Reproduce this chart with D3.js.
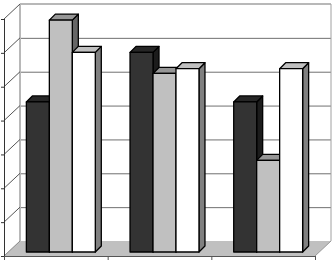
<!DOCTYPE html>
<html><head><meta charset="utf-8">
<script src="https://cdn.jsdelivr.net/npm/d3@7"></script>
<style>html,body{margin:0;padding:0;background:#fff}svg{display:block}</style>
</head><body><svg id="c" width="334" height="263"></svg>
<script>
const categories = ["A","B","C"];
const seriesNames = ["s1","s2","s3"];
const series1 = [4.42, 5.88, 4.42];
const series2 = [6.83, 5.26, 2.7];
const series3 = [5.88, 5.4, 5.4];
const yTicks = [0,1,2,3,4,5,6,7];
const allSeries = [series1, series2, series3];
const frontFaces = ["#333333","#c0c0c0","#ffffff"];
const topFaces = ["#262626","#969696","#c0c0c0"];
const sideFaces = ["#1c1c1c","#666666","#808080"];

const svg = d3.select("#c");
const L = 4, R = 315, B = 256, DX = 16, DY = -15;
const yBack = d3.scaleLinear().domain([0,7]).range([B+DY, 4]);
const yFront = d3.scaleLinear().domain([0,7]).range([B, 4-DY]);
const yBar = d3.scaleLinear().domain([0,7]).range([252, 252-7*33.95]);
const xCat = d3.scaleBand().domain(categories).range([L,R]);
const xOuter = d3.scaleBand().domain(categories).range([L+5,R+5]).paddingInner(0.335).paddingOuter(0.1675);
const xInner = d3.scaleBand().domain(seriesNames).range([0,xOuter.bandwidth()]);

// floor
svg.append("path").attr("d",`M${L},${B}L${R},${B}L${R+DX},${B+DY}L${L+DX},${B+DY}Z`).attr("fill","#c0c0c0");
// gridlines on back wall
svg.append("g").selectAll("line").data(yTicks.slice(1,-1)).join("line")
  .attr("x1",L+DX).attr("x2",R+DX).attr("y1",d=>yBack(d)+.5).attr("y2",d=>yBack(d)+.5)
  .attr("stroke","#707070").attr("stroke-width",1);
// walls
svg.append("line").attr("x1",L+DX).attr("x2",R+DX).attr("y1",yBack(7)).attr("y2",yBack(7)).attr("stroke","#b8b8b8").attr("stroke-width",2);
svg.append("line").attr("x1",L+DX).attr("x2",L+DX).attr("y1",yBack(7)).attr("y2",yBack(0)).attr("stroke","#b8b8b8").attr("stroke-width",2);
svg.append("line").attr("x1",R+DX).attr("x2",R+DX).attr("y1",yBack(7)).attr("y2",yBack(0)).attr("stroke","#a0a0a0").attr("stroke-width",1);
// side wall diagonals
svg.append("g").selectAll("line").data(yTicks).join("line")
  .attr("x1",L).attr("x2",L+DX).attr("y1",d=>yFront(d)).attr("y2",d=>yBack(d))
  .attr("stroke",d=>d===0?"#888":"#555").attr("stroke-width",1);
// floor right edge
svg.append("line").attr("x1",R).attr("x2",R+DX).attr("y1",B).attr("y2",B+DY).attr("stroke","#999");
// axes
svg.append("line").attr("x1",L+.5).attr("x2",L+.5).attr("y1",yFront(7)).attr("y2",B).attr("stroke","#333");
svg.append("line").attr("x1",L).attr("x2",R).attr("y1",B+.5).attr("y2",B+.5).attr("stroke","#555");
svg.append("g").selectAll("line").data(yTicks).join("line")
  .attr("x1",L-3).attr("x2",L).attr("y1",d=>yFront(d)+.5).attr("y2",d=>yFront(d)+.5).attr("stroke","#333");
svg.append("g").selectAll("line").data([...categories.map(c=>xCat(c)),R]).join("line")
  .attr("x1",d=>d+.5).attr("x2",d=>d+.5).attr("y1",B).attr("y2",B+4).attr("stroke","#555");

// bars
const bw = xInner.bandwidth(), D = 6;
const drawOrder = [];
categories.forEach((c,i)=>allSeries.forEach((s,j)=>drawOrder.push({x:xOuter(c)+xInner(seriesNames[j]),v:s[i],j})));
const g = svg.append("g").attr("stroke","#000").attr("stroke-width",1.3).attr("stroke-linejoin","round");
drawOrder.forEach(d=>{
  const x0=d.x, x1=d.x+bw, yt=yBar(d.v), yb=yBar(0);
  g.append("path").attr("d",`M${x1},${yt}L${x1+D},${yt-D}L${x1+D},${yb-D}L${x1},${yb}Z`).attr("fill",sideFaces[d.j]);
  g.append("path").attr("d",`M${x0},${yt}L${x0+D},${yt-D}L${x1+D},${yt-D}L${x1},${yt}Z`).attr("fill",topFaces[d.j]);
  g.append("rect").attr("x",x0).attr("y",yt).attr("width",bw).attr("height",yb-yt).attr("fill",frontFaces[d.j]);
});
</script></body></html>
